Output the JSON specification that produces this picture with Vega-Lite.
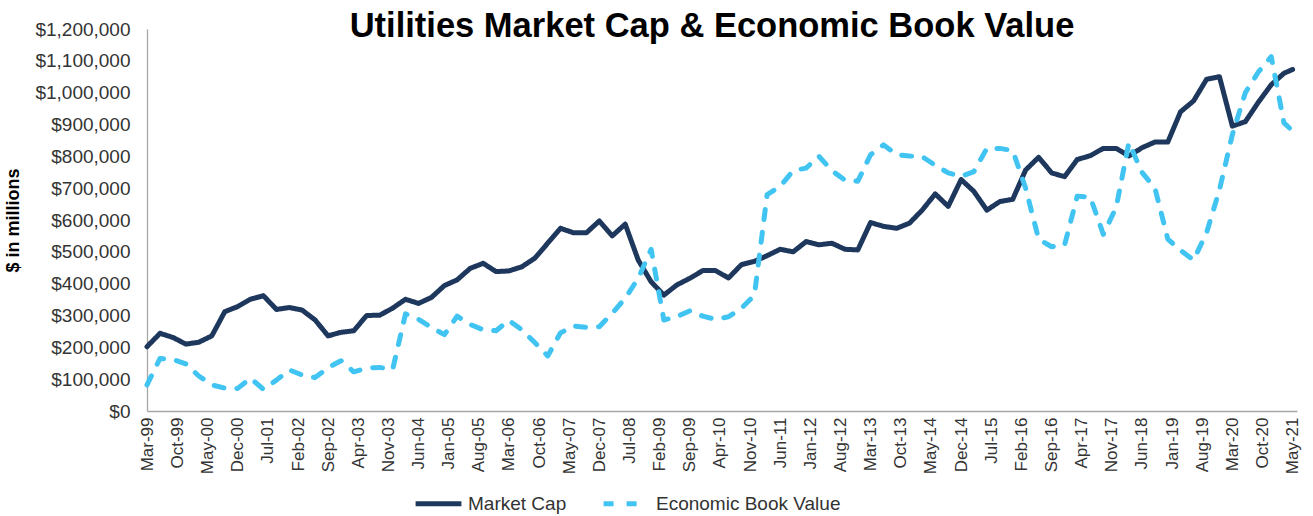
{
 "$schema": "https://vega.github.io/schema/vega-lite/v6.json",
 "width": 1150,
 "height": 382,
 "autosize": "none",
 "padding": {"left": 147, "top": 29, "right": 16, "bottom": 105},
 "background": "white",
 "config": {"view": {"stroke": null}, "font": "Liberation Sans", "legend": {"symbolStrokeWidth": 5}},
 "title": {"text": "Utilities Market Cap & Economic Book Value", "font": "Liberation Sans", "fontSize": 34.5, "fontWeight": "bold", "color": "#000000", "anchor": "middle", "offset": -24, "dx": -10},
 "data": {"values": [
  {"date": "1999-03-01T00:00:00", "Market Cap": 202000, "Economic Book Value": 82000},
  {"date": "1999-06-01T00:00:00", "Market Cap": 244000, "Economic Book Value": 165000},
  {"date": "1999-09-01T00:00:00", "Market Cap": 231000, "Economic Book Value": 162000},
  {"date": "1999-12-01T00:00:00", "Market Cap": 210000, "Economic Book Value": 148000},
  {"date": "2000-03-01T00:00:00", "Market Cap": 216000, "Economic Book Value": 110000},
  {"date": "2000-06-01T00:00:00", "Market Cap": 236000, "Economic Book Value": 82000},
  {"date": "2000-09-01T00:00:00", "Market Cap": 312000, "Economic Book Value": 72000},
  {"date": "2000-12-01T00:00:00", "Market Cap": 328000, "Economic Book Value": 71000},
  {"date": "2001-03-01T00:00:00", "Market Cap": 351000, "Economic Book Value": 103000},
  {"date": "2001-06-01T00:00:00", "Market Cap": 362000, "Economic Book Value": 68000},
  {"date": "2001-09-01T00:00:00", "Market Cap": 319000, "Economic Book Value": 97000},
  {"date": "2001-12-01T00:00:00", "Market Cap": 325000, "Economic Book Value": 129000},
  {"date": "2002-03-01T00:00:00", "Market Cap": 317000, "Economic Book Value": 113000},
  {"date": "2002-06-01T00:00:00", "Market Cap": 286000, "Economic Book Value": 105000},
  {"date": "2002-09-01T00:00:00", "Market Cap": 236000, "Economic Book Value": 136000},
  {"date": "2002-12-01T00:00:00", "Market Cap": 247000, "Economic Book Value": 158000},
  {"date": "2003-03-01T00:00:00", "Market Cap": 252000, "Economic Book Value": 123000},
  {"date": "2003-06-01T00:00:00", "Market Cap": 300000, "Economic Book Value": 135000},
  {"date": "2003-09-01T00:00:00", "Market Cap": 301000, "Economic Book Value": 137000},
  {"date": "2003-12-01T00:00:00", "Market Cap": 323000, "Economic Book Value": 130000},
  {"date": "2004-03-01T00:00:00", "Market Cap": 351000, "Economic Book Value": 305000},
  {"date": "2004-06-01T00:00:00", "Market Cap": 338000, "Economic Book Value": 288000},
  {"date": "2004-09-01T00:00:00", "Market Cap": 357000, "Economic Book Value": 262000},
  {"date": "2004-12-01T00:00:00", "Market Cap": 394000, "Economic Book Value": 240000},
  {"date": "2005-03-01T00:00:00", "Market Cap": 412000, "Economic Book Value": 298000},
  {"date": "2005-06-01T00:00:00", "Market Cap": 448000, "Economic Book Value": 272000},
  {"date": "2005-09-01T00:00:00", "Market Cap": 464000, "Economic Book Value": 255000},
  {"date": "2005-12-01T00:00:00", "Market Cap": 438000, "Economic Book Value": 252000},
  {"date": "2006-03-01T00:00:00", "Market Cap": 440000, "Economic Book Value": 285000},
  {"date": "2006-06-01T00:00:00", "Market Cap": 453000, "Economic Book Value": 255000},
  {"date": "2006-09-01T00:00:00", "Market Cap": 480000, "Economic Book Value": 215000},
  {"date": "2006-12-01T00:00:00", "Market Cap": 527000, "Economic Book Value": 173000},
  {"date": "2007-03-01T00:00:00", "Market Cap": 574000, "Economic Book Value": 245000},
  {"date": "2007-06-01T00:00:00", "Market Cap": 560000, "Economic Book Value": 267000},
  {"date": "2007-09-01T00:00:00", "Market Cap": 560000, "Economic Book Value": 263000},
  {"date": "2007-12-01T00:00:00", "Market Cap": 597000, "Economic Book Value": 265000},
  {"date": "2008-03-01T00:00:00", "Market Cap": 550000, "Economic Book Value": 307000},
  {"date": "2008-06-01T00:00:00", "Market Cap": 587000, "Economic Book Value": 354000},
  {"date": "2008-09-01T00:00:00", "Market Cap": 474000, "Economic Book Value": 417000},
  {"date": "2008-12-01T00:00:00", "Market Cap": 406000, "Economic Book Value": 508000},
  {"date": "2009-03-01T00:00:00", "Market Cap": 364000, "Economic Book Value": 286000},
  {"date": "2009-06-01T00:00:00", "Market Cap": 396000, "Economic Book Value": 296000},
  {"date": "2009-09-01T00:00:00", "Market Cap": 417000, "Economic Book Value": 315000},
  {"date": "2009-12-01T00:00:00", "Market Cap": 441000, "Economic Book Value": 298000},
  {"date": "2010-03-01T00:00:00", "Market Cap": 441000, "Economic Book Value": 288000},
  {"date": "2010-06-01T00:00:00", "Market Cap": 418000, "Economic Book Value": 296000},
  {"date": "2010-09-01T00:00:00", "Market Cap": 460000, "Economic Book Value": 323000},
  {"date": "2010-12-01T00:00:00", "Market Cap": 470000, "Economic Book Value": 364000},
  {"date": "2011-03-01T00:00:00", "Market Cap": 488000, "Economic Book Value": 680000},
  {"date": "2011-06-01T00:00:00", "Market Cap": 508000, "Economic Book Value": 705000},
  {"date": "2011-09-01T00:00:00", "Market Cap": 500000, "Economic Book Value": 755000},
  {"date": "2011-12-01T00:00:00", "Market Cap": 532000, "Economic Book Value": 763000},
  {"date": "2012-03-01T00:00:00", "Market Cap": 522000, "Economic Book Value": 800000},
  {"date": "2012-06-01T00:00:00", "Market Cap": 527000, "Economic Book Value": 755000},
  {"date": "2012-09-01T00:00:00", "Market Cap": 508000, "Economic Book Value": 725000},
  {"date": "2012-12-01T00:00:00", "Market Cap": 506000, "Economic Book Value": 722000},
  {"date": "2013-03-01T00:00:00", "Market Cap": 592000, "Economic Book Value": 805000},
  {"date": "2013-06-01T00:00:00", "Market Cap": 580000, "Economic Book Value": 836000},
  {"date": "2013-09-01T00:00:00", "Market Cap": 574000, "Economic Book Value": 805000},
  {"date": "2013-12-01T00:00:00", "Market Cap": 590000, "Economic Book Value": 801000},
  {"date": "2014-03-01T00:00:00", "Market Cap": 631000, "Economic Book Value": 799000},
  {"date": "2014-06-01T00:00:00", "Market Cap": 682000, "Economic Book Value": 772000},
  {"date": "2014-09-01T00:00:00", "Market Cap": 643000, "Economic Book Value": 748000},
  {"date": "2014-12-01T00:00:00", "Market Cap": 727000, "Economic Book Value": 737000},
  {"date": "2015-03-01T00:00:00", "Market Cap": 690000, "Economic Book Value": 752000},
  {"date": "2015-06-01T00:00:00", "Market Cap": 631000, "Economic Book Value": 825000},
  {"date": "2015-09-01T00:00:00", "Market Cap": 658000, "Economic Book Value": 825000},
  {"date": "2015-12-01T00:00:00", "Market Cap": 665000, "Economic Book Value": 818000},
  {"date": "2016-03-01T00:00:00", "Market Cap": 757000, "Economic Book Value": 700000},
  {"date": "2016-06-01T00:00:00", "Market Cap": 797000, "Economic Book Value": 540000},
  {"date": "2016-09-01T00:00:00", "Market Cap": 748000, "Economic Book Value": 516000},
  {"date": "2016-12-01T00:00:00", "Market Cap": 736000, "Economic Book Value": 521000},
  {"date": "2017-03-01T00:00:00", "Market Cap": 790000, "Economic Book Value": 675000},
  {"date": "2017-06-01T00:00:00", "Market Cap": 802000, "Economic Book Value": 672000},
  {"date": "2017-09-01T00:00:00", "Market Cap": 825000, "Economic Book Value": 555000},
  {"date": "2017-12-01T00:00:00", "Market Cap": 825000, "Economic Book Value": 640000},
  {"date": "2018-03-01T00:00:00", "Market Cap": 801000, "Economic Book Value": 843000},
  {"date": "2018-06-01T00:00:00", "Market Cap": 827000, "Economic Book Value": 750000},
  {"date": "2018-09-01T00:00:00", "Market Cap": 845000, "Economic Book Value": 700000},
  {"date": "2018-12-01T00:00:00", "Market Cap": 845000, "Economic Book Value": 540000},
  {"date": "2019-03-01T00:00:00", "Market Cap": 940000, "Economic Book Value": 505000},
  {"date": "2019-06-01T00:00:00", "Market Cap": 974000, "Economic Book Value": 474000},
  {"date": "2019-09-01T00:00:00", "Market Cap": 1042000, "Economic Book Value": 560000},
  {"date": "2019-12-01T00:00:00", "Market Cap": 1050000, "Economic Book Value": 695000},
  {"date": "2020-03-01T00:00:00", "Market Cap": 895000, "Economic Book Value": 868000},
  {"date": "2020-06-01T00:00:00", "Market Cap": 909000, "Economic Book Value": 1000000},
  {"date": "2020-09-01T00:00:00", "Market Cap": 970000, "Economic Book Value": 1065000},
  {"date": "2020-12-01T00:00:00", "Market Cap": 1025000, "Economic Book Value": 1113000},
  {"date": "2021-03-01T00:00:00", "Market Cap": 1061000, "Economic Book Value": 905000},
  {"date": "2021-05-01T00:00:00", "Market Cap": 1073000, "Economic Book Value": 880000}
 ]},
 "transform": [{"fold": ["Market Cap", "Economic Book Value"], "as": ["series", "value"]}],
 "mark": {"type": "line", "strokeWidth": 5, "strokeCap": "round", "strokeJoin": "round"},
 "encoding": {
  "x": {
   "field": "date", "type": "temporal",
   "scale": {"domain": [{"year": 1999, "month": 3, "date": 1}, {"year": 2021, "month": 6, "date": 1}]},
   "axis": {
    "title": null, "grid": false, "ticks": false, "domainColor": "#A6A6A6", "domainWidth": 1.3,
    "labelAngle": -90, "labelFontSize": 17, "labelColor": "#333333", "labelPadding": 6,
    "labelOverlap": false, "labelFlush": false, "format": "%b-%y",
    "values": [
     {"year": 1999, "month": 3, "date": 1}, {"year": 1999, "month": 10, "date": 1},
     {"year": 2000, "month": 5, "date": 1}, {"year": 2000, "month": 12, "date": 1},
     {"year": 2001, "month": 7, "date": 1}, {"year": 2002, "month": 2, "date": 1},
     {"year": 2002, "month": 9, "date": 1}, {"year": 2003, "month": 4, "date": 1},
     {"year": 2003, "month": 11, "date": 1}, {"year": 2004, "month": 6, "date": 1},
     {"year": 2005, "month": 1, "date": 1}, {"year": 2005, "month": 8, "date": 1},
     {"year": 2006, "month": 3, "date": 1}, {"year": 2006, "month": 10, "date": 1},
     {"year": 2007, "month": 5, "date": 1}, {"year": 2007, "month": 12, "date": 1},
     {"year": 2008, "month": 7, "date": 1}, {"year": 2009, "month": 2, "date": 1},
     {"year": 2009, "month": 9, "date": 1}, {"year": 2010, "month": 4, "date": 1},
     {"year": 2010, "month": 11, "date": 1}, {"year": 2011, "month": 6, "date": 1},
     {"year": 2012, "month": 1, "date": 1}, {"year": 2012, "month": 8, "date": 1},
     {"year": 2013, "month": 3, "date": 1}, {"year": 2013, "month": 10, "date": 1},
     {"year": 2014, "month": 5, "date": 1}, {"year": 2014, "month": 12, "date": 1},
     {"year": 2015, "month": 7, "date": 1}, {"year": 2016, "month": 2, "date": 1},
     {"year": 2016, "month": 9, "date": 1}, {"year": 2017, "month": 4, "date": 1},
     {"year": 2017, "month": 11, "date": 1}, {"year": 2018, "month": 6, "date": 1},
     {"year": 2019, "month": 1, "date": 1}, {"year": 2019, "month": 8, "date": 1},
     {"year": 2020, "month": 3, "date": 1}, {"year": 2020, "month": 10, "date": 1},
     {"year": 2021, "month": 5, "date": 1}
    ]
   }
  },
  "y": {
   "field": "value", "type": "quantitative",
   "scale": {"domain": [0, 1200000]},
   "axis": {
    "title": "$ in millions", "titleFontSize": 18, "titleFontWeight": "bold", "titleColor": "#000000", "titlePadding": 12,
    "grid": false, "ticks": false, "domainColor": "#A6A6A6", "domainWidth": 1.3,
    "labelFontSize": 19, "labelColor": "#333333", "labelPadding": 17, "format": "$,.0f",
    "values": [0, 100000, 200000, 300000, 400000, 500000, 600000, 700000, 800000, 900000, 1000000, 1100000, 1200000]
   }
  },
  "color": {
   "field": "series", "type": "nominal",
   "scale": {"domain": ["Market Cap", "Economic Book Value"], "range": ["#1E385D", "#41C4F2"]},
   "legend": {"title": null, "orient": "none", "legendX": 266, "legendY": 449, "direction": "horizontal", "labelFontSize": 19, "labelLimit": 0, "labelColor": "#333333", "symbolSize": 2100, "symbolStrokeWidth": 5, "columnPadding": 26, "labelOffset": 4}
  },
  "strokeDash": {
   "field": "series", "type": "nominal",
   "scale": {"domain": ["Market Cap", "Economic Book Value"], "range": [[1, 0], [10, 13]]},
   "legend": {"title": null, "orient": "none", "legendX": 266, "legendY": 449, "direction": "horizontal", "labelFontSize": 19, "labelLimit": 0, "labelColor": "#333333", "symbolSize": 2100, "symbolStrokeWidth": 5, "columnPadding": 26, "labelOffset": 4}
  }
 }
}
